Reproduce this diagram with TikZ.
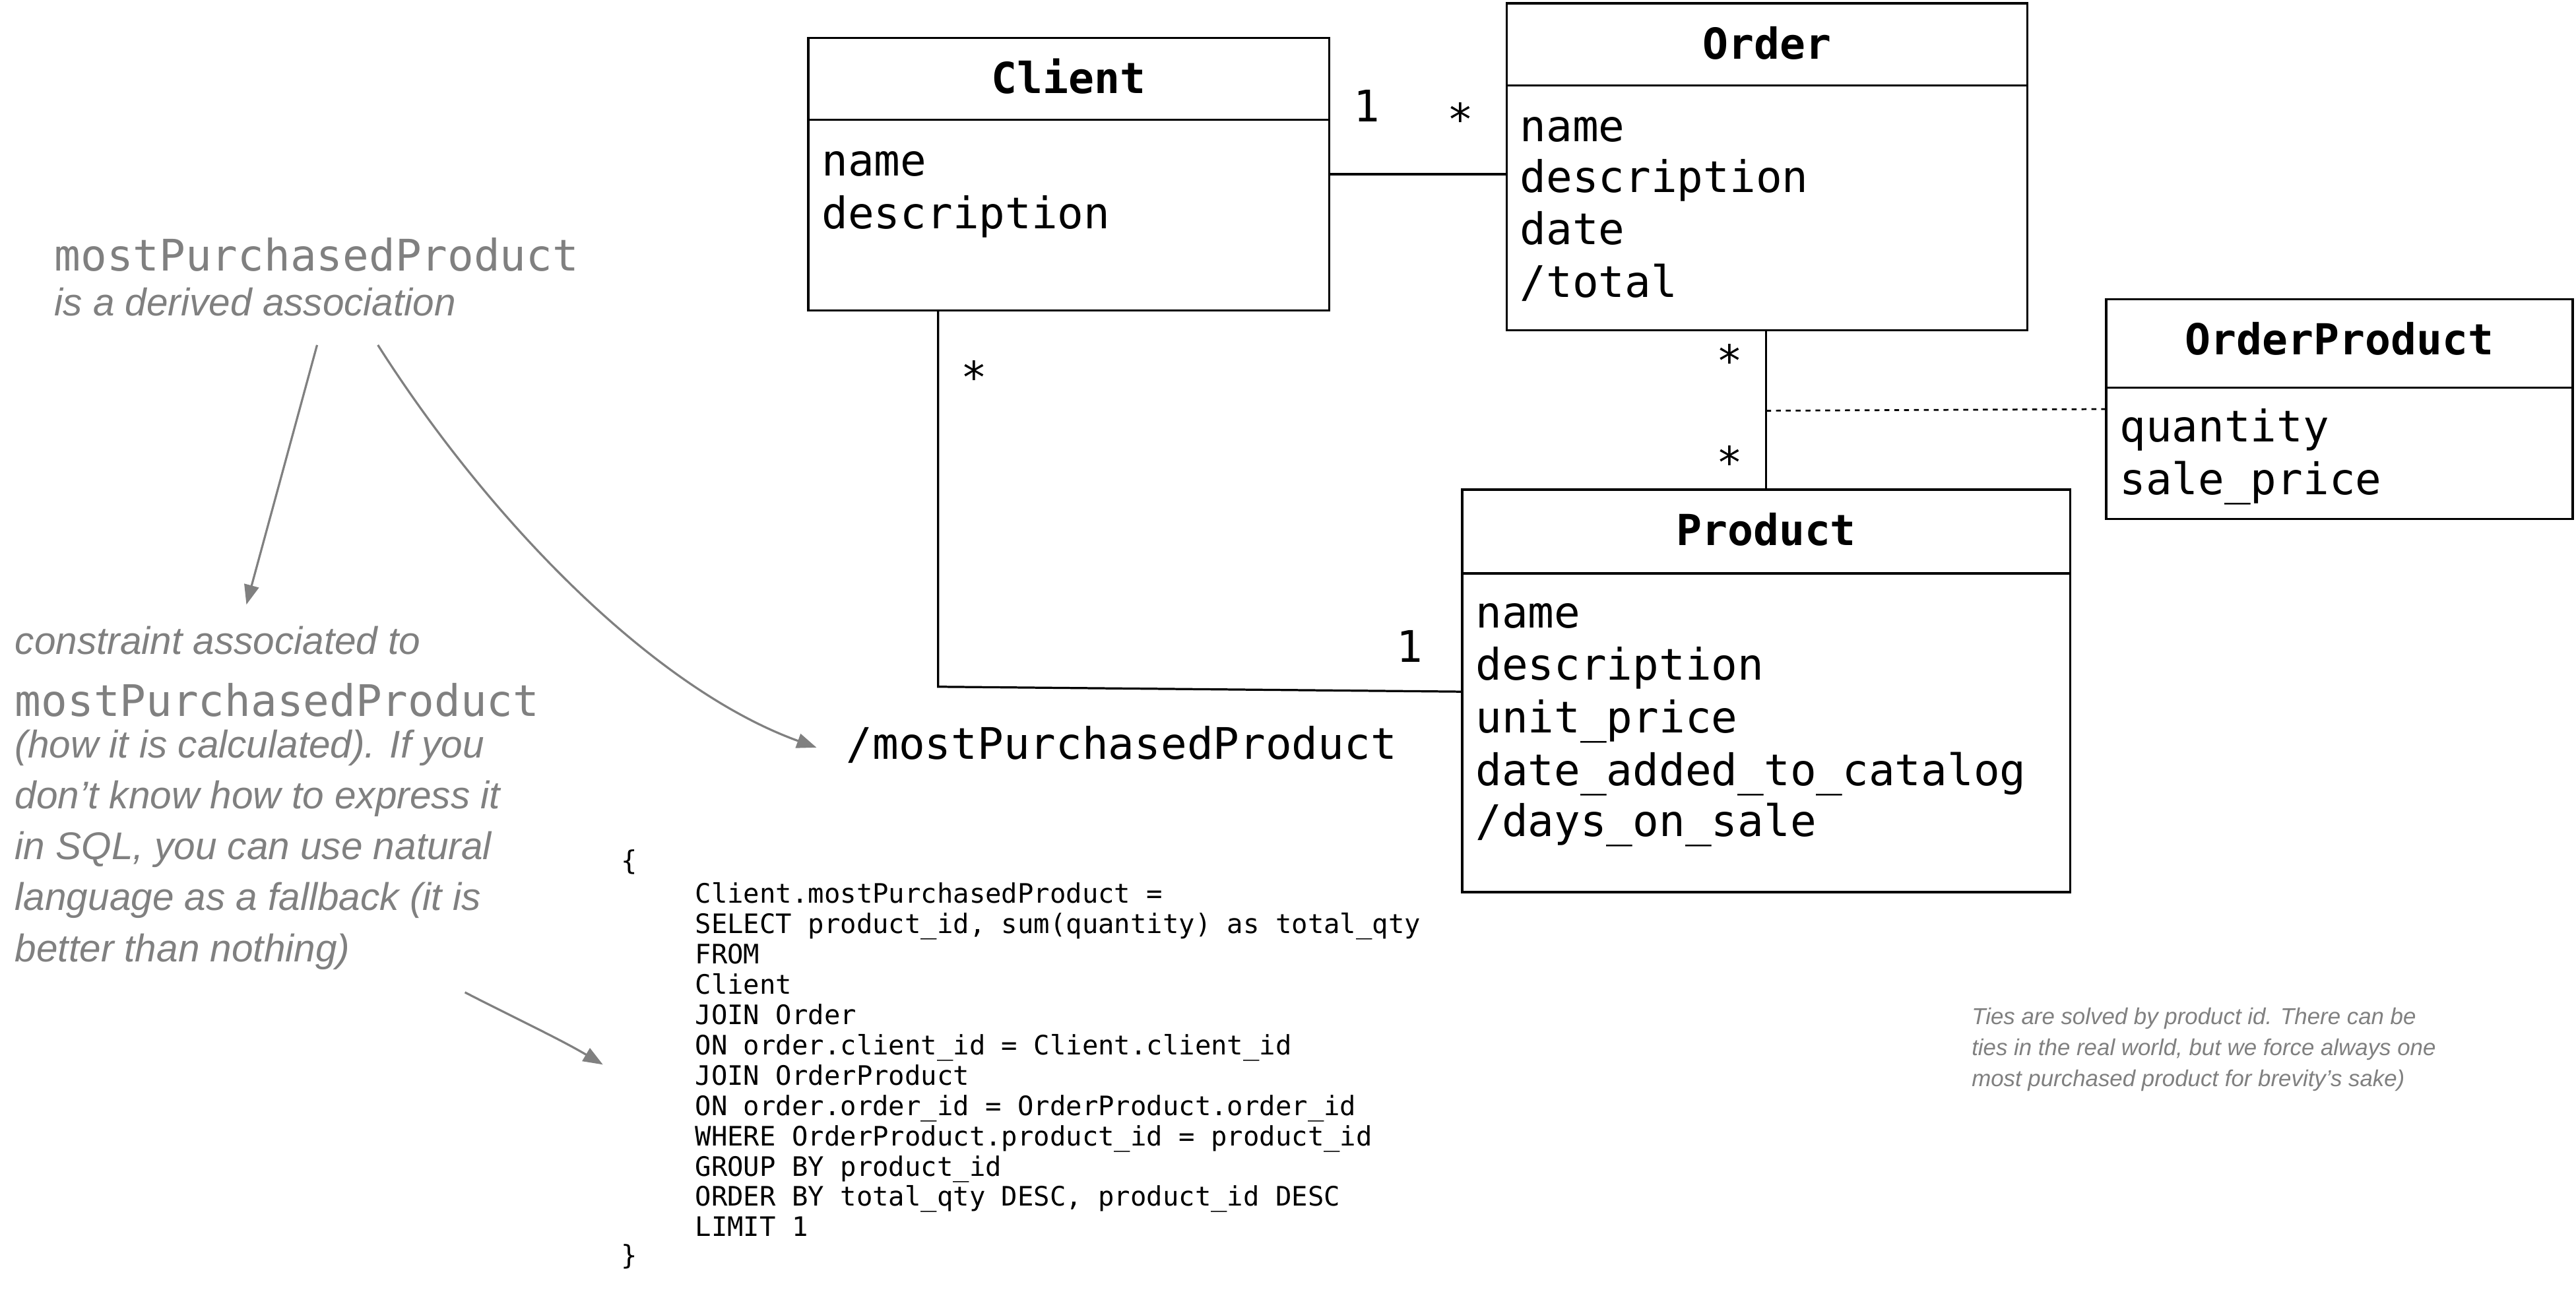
\documentclass[tikz,border=0pt]{standalone}
\usepackage{fontspec}
\setmainfont{Liberation Sans}
\newfontfamily\monof{DejaVu Sans Mono}
\usetikzlibrary{arrows.meta}
\definecolor{gr}{RGB}{128,128,128}
\tikzset{
  box/.style={draw,line width=1.3pt},
  att/.style={anchor=base west,inner sep=0,font=\monof\fontsize{26.5}{32}\selectfont},
  ttl/.style={anchor=base,inner sep=0,font=\monof\bfseries\fontsize{26}{32}\selectfont},
  lbl/.style={anchor=base,inner sep=0,font=\monof\fontsize{26.5}{32}\selectfont},
  code/.style={anchor=north west,inner sep=0,align=left,font=\monof\fontsize{16.3}{18.45}\selectfont},
  gmono/.style={anchor=base west,inner sep=0,text=gr,font=\monof\fontsize{26.5}{32}\selectfont},
  gital/.style={anchor=north west,inner sep=0,text=gr,align=left,font=\itshape\fontsize{23.5}{31}\selectfont},
  note/.style={anchor=north west,inner sep=0,text=gr,align=left,font=\itshape\fontsize{14}{19}\selectfont},
  conn/.style={line width=1.3pt},
  garrow/.style={draw=gr,line width=1.3pt,-{Triangle[length=12pt,width=9pt]}}
}
\begin{document}
\begin{tikzpicture}[x=1pt,y=-1pt]
\useasboundingbox (0,0) rectangle (1568,786.4);
% Client
\draw[box] (492,23) rectangle (809,189); \draw[box] (492,73)--(809,73);
\node[ttl] (ct) at (650.5,57) {Client};
\node[att] at (500,107) {name};
\node[att] at (500,139) {description};
\coordinate (cR) at (809,106);
\coordinate (cB) at (571,189);
% Order
\draw[box] (917,2) rectangle (1234,201); \draw[box] (917,52)--(1234,52);
\node[ttl] at (1075.5,36) {Order};
\node[att] at (925,86) {name};
\node[att] at (925,117) {description};
\node[att] at (925,149) {date};
\node[att] at (925,181) {/total};
\coordinate (oL) at (917,106);
\coordinate (oB) at (1075,201);
% OrderProduct
\draw[box] (1282,182) rectangle (1566,316); \draw[box] (1282,236)--(1566,236);
\node[ttl] at (1424,216) {OrderProduct};
\node[att] at (1290,269) {quantity};
\node[att] at (1290,301) {sale\_price};
\coordinate (opL) at (1282,249);
% Product
\draw[box] (890,298) rectangle (1260,543); \draw[box] (890,349)--(1260,349);
\node[ttl] at (1075,332) {Product};
\node[att] at (898,382) {name};
\node[att] at (898,414) {description};
\node[att] at (898,446) {unit\_price};
\node[att] at (898,478) {date\_added\_to\_catalog};
\node[att] at (898,509) {/days\_on\_sale};
\coordinate (pT) at (1075,298);
\coordinate (pL) at (890,421);
% connectors
\draw[conn] (cR)--(oL);
\draw[conn] (oB)--(pT);
\coordinate (mid) at (1075,250);
\draw[conn,dashed,line width=1.1pt] (mid)--(opL);
\draw[conn] (cB)--(571,418)--(pL);
\node[lbl] at (832,74) {1};
\node[lbl] at (889,82) {*};
\node[lbl] at (1053,229) {*};
\node[lbl] at (1053,291) {*};
\node[lbl] at (593,239) {*};
\node[lbl] at (858,403) {1};
\node[att] (mpp) at (515,462) {/mostPurchasedProduct};
% gray notes
\node[gmono] (g1) at (33,165) {mostPurchasedProduct};
\node[gital] (g2) at (33,175) {is a derived association};
\node[gital] (g3) at (9,381) {constraint associated to\\[-31pt]\phantom{x}};
\node[gmono] at (9,436) {mostPurchasedProduct};
\node[gital] at (9,444) {(how it is calculated). If you\\don’t know how to express it\\in SQL, you can use natural\\language as a fallback (it is\\better than nothing)};
\draw[garrow] (193,210)--(150,368);
\draw[garrow] (230,210) .. controls (300,320) and (400,420) .. (497,455);
\draw[garrow] (283,604) .. controls (310,618) and (340,632) .. (367,648);
% code
\node[code] at (378,517) {\{};
\node[code] at (423,537) {Client.mostPurchasedProduct =\\SELECT product\_id, sum(quantity) as total\_qty\\FROM\\Client\\JOIN Order\\ON order.client\_id = Client.client\_id\\JOIN OrderProduct\\ON order.order\_id = OrderProduct.order\_id\\WHERE OrderProduct.product\_id = product\_id\\GROUP BY product\_id\\ORDER BY total\_qty DESC, product\_id DESC\\LIMIT 1};
\node[code] at (378,757) {\}};
\node[note] at (1200,613) {Ties are solved by product id. There can be\\ties in the real world, but we force always one\\most purchased product for brevity's sake)};
\end{tikzpicture}
\end{document}
